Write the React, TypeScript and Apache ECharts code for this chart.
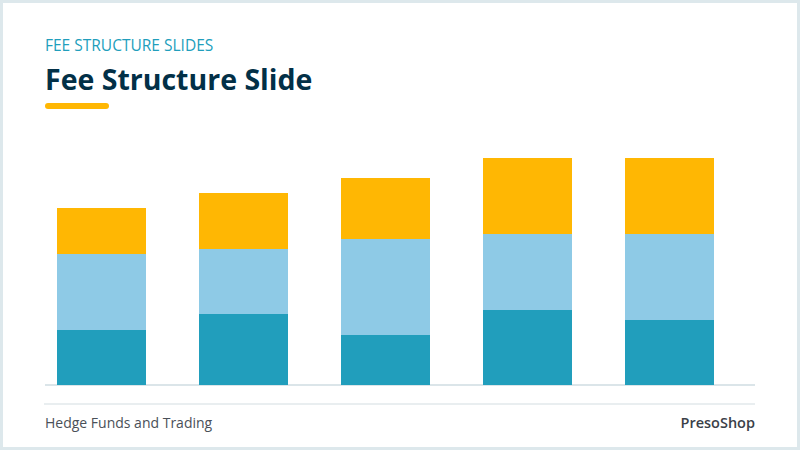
import React, { useEffect, useRef } from 'react'
import * as echarts from 'echarts'

// categories are not printed on the slide
const categories = ['Fund 1', 'Fund 2', 'Fund 3', 'Fund 4', 'Fund 5']
const baseFee = [55, 71, 50, 75, 65]
const managementFee = [76, 65, 96, 76, 86]
const performanceFee = [46, 56, 61, 76, 76]

const TEAL = '#219EBC'
const LIGHT_BLUE = '#8ECAE6'
const YELLOW = '#FFB703'
const NAVY = '#023047'
const FONT = "'Open Sans', 'Noto Sans', sans-serif"

const App: React.FC = () => {
  const chartRef = useRef<HTMLDivElement>(null)

  useEffect(() => {
    document.body.style.margin = '0'
    if (!chartRef.current) return
    const chart = echarts.init(chartRef.current, null, { renderer: 'svg' })

    const option: echarts.EChartsOption = {
      animation: false,
      backgroundColor: '#ffffff',
      grid: { left: 30.5, right: 59.5, top: 158, bottom: 65 },
      xAxis: {
        type: 'category',
        data: categories,
        axisLine: { show: false },
        axisTick: { show: false },
        axisLabel: { show: false }
      },
      yAxis: {
        type: 'value',
        min: 0,
        max: 227,
        show: false,
        splitLine: { show: false }
      },
      graphic: [
        {
          type: 'rect',
          shape: { x: 1.5, y: 1.5, width: 797, height: 447 },
          style: { fill: 'none', stroke: '#dde8ec', lineWidth: 3 },
          silent: true
        },
        {
          type: 'text',
          left: 45,
          top: 37,
          style: { text: 'FEE STRUCTURE SLIDES', fill: TEAL, font: `400 15.5px ${FONT}` }
        },
        {
          type: 'text',
          left: 45,
          top: 64,
          style: { text: 'Fee Structure Slide', fill: NAVY, font: `700 28.5px ${FONT}` }
        },
        {
          type: 'rect',
          shape: { x: 45, y: 103, width: 64, height: 6, r: 3 },
          style: { fill: YELLOW }
        },
        {
          type: 'line',
          z: -1,
          shape: { x1: 45, y1: 385, x2: 755, y2: 385 },
          style: { stroke: '#dbe5e9', lineWidth: 2 }
        },
        {
          type: 'line',
          shape: { x1: 44, y1: 404, x2: 755, y2: 404 },
          style: { stroke: '#e2e8eb', lineWidth: 1.5 }
        },
        {
          type: 'text',
          left: 45,
          top: 415,
          style: { text: 'Hedge Funds and Trading', fill: '#4a5058', font: `400 14px ${FONT}` }
        },
        {
          type: 'text',
          right: 45,
          top: 415,
          style: { text: 'PresoShop', fill: '#3a4048', font: `600 14.5px ${FONT}` }
        }
      ],
      series: [
        {
          name: 'Base',
          type: 'bar',
          stack: 'fee',
          barWidth: 89,
          itemStyle: { color: TEAL },
          data: baseFee
        },
        {
          name: 'Management',
          type: 'bar',
          stack: 'fee',
          barWidth: 89,
          itemStyle: { color: LIGHT_BLUE },
          data: managementFee
        },
        {
          name: 'Performance',
          type: 'bar',
          stack: 'fee',
          barWidth: 89,
          itemStyle: { color: YELLOW },
          data: performanceFee
        }
      ]
    }

    chart.setOption(option)

    return () => {
      chart.dispose()
    }
  }, [])

  return <div ref={chartRef} style={{ width: 800, height: 450 }} />
}

export default App
